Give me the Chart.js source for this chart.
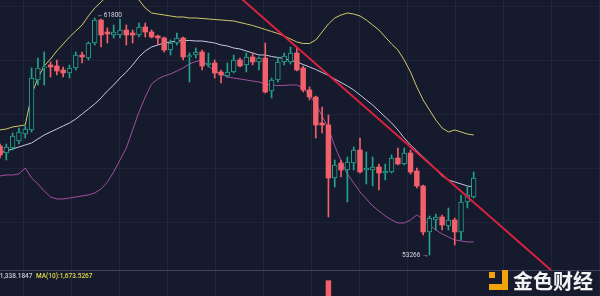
<!DOCTYPE html>
<html><head><meta charset="utf-8">
<script src="https://cdn.jsdelivr.net/npm/chart.js@4.4.0/dist/chart.umd.min.js"></script>
<style>html,body{margin:0;padding:0;background:#161a2d;overflow:hidden}#wrap{width:600px;height:296px}</style>
</head><body><div id="wrap"><canvas id="c" width="600" height="296"></canvas></div>
<script>
// ---- data (4H candles) ----
const categories = Array.from({length: 76}, (_, i) => 'K' + (i + 1));
const openP  = [57191,56939,57119,57371,57623,57767,59568,60000,60108,60072,59928,59820,60000,60468,60360,60900,61728,61296,61188,61188,61368,61260,61188,61476,61296,61152,61080,60648,60900,61080,60396,60468,60576,60108,60180,59856,59712,59856,60288,60108,60396,60216,60360,59171,59568,60216,60216,60540,60000,59207,58955,58019,57947,56038,56579,56327,56579,57047,56327,56327,56435,56219,56255,56759,56543,56939,56291,55751,54094,54526,54634,54310,54526,54094,55174,55354];
const highP  = [57263,57263,57659,57839,57911,60000,60360,60576,60216,60288,60036,60108,60576,60576,60936,61800,61764,61440,61548,61764,61548,61368,61620,61620,61368,61188,61116,61008,61260,61116,60540,60720,60648,60540,60288,59928,60180,60468,60360,60540,60540,60396,60900,59640,60396,60540,60756,60756,60072,59315,58990,58595,58307,56687,56687,56795,57155,57479,56975,56795,56543,56543,56867,57119,57119,57047,56399,55787,54670,54742,54706,54958,54598,55427,55715,56255];
const lowP   = [56759,56687,57047,57263,57479,57695,59387,59387,59676,59748,59676,59640,59928,60180,60288,60828,60756,60900,61080,61080,60828,60900,61116,61116,61080,60828,60576,60468,60828,60288,59496,60360,59928,60036,59640,59460,59676,59820,60036,59856,60108,59928,59099,58919,59496,60108,60144,59892,59135,58847,57479,57659,54634,55715,56075,55174,56327,56220,55823,55751,55606,55967,56219,56507,56507,56183,55679,53986,53266,54166,54166,54166,53626,53806,54958,55318];
const closeP = [56867,57155,57551,57695,57803,59640,60000,60036,60036,59892,59820,60000,60468,60396,60900,61728,61188,61224,61296,61368,61188,61188,61476,61296,61116,61080,60648,60900,61080,60396,60450,60576,60072,60180,59820,59748,59856,60288,60072,60396,60216,60360,59135,59568,60216,60432,60540,59928,59207,58955,57947,57947,56038,56507,56327,56615,57047,56255,56399,56435,56219,56291,56759,56543,56939,56255,55751,54094,54598,54634,54346,54526,54094,55174,55427,56038];
const volume = [2200,1900,2100,1800,1600,4800,3000,2600,1800,1700,1500,1600,2000,1500,2200,3500,3800,2100,1600,2000,1900,1500,1700,1600,1500,1400,2300,1800,1500,2600,2400,1500,2200,1600,1900,1500,1400,1700,1400,1600,1500,1400,3600,2400,2100,1500,1400,2300,2900,2000,3800,2600,9000,4200,2300,3000,2100,2600,1900,1700,1800,1300,1500,1400,1300,1700,1500,2900,2400,1300,1200,1100,1500,2100,1400,1338];
const bollUpper = [57768,57804,57876,57912,57948,59028,59640,60072,60324,60612,60864,61116,61332,61548,61872,62160,62376,62592,62736,62808,62808,62664,62448,62160,61980,61944,61908,61872,61836,61836,61800,61800,61782,61764,61746,61728,61710,61692,61638,61584,61530,61458,61386,61314,61242,61152,61044,60936,60882,60882,61008,61296,61584,61800,61908,61980,61944,61872,61728,61548,61368,61116,60864,60648,60288,59856,59316,58848,58488,58128,57840,57696,57768,57696,57624,57588];
const bollMid = [56940,57012,57084,57156,57228,57300,57444,57588,57696,57804,57912,58020,58164,58344,58524,58704,58920,59172,59388,59640,59856,60108,60396,60612,60756,60828,60900,60936,60972,60990,60990,60972,60972,60936,60900,60828,60792,60720,60684,60612,60540,60468,60468,60414,60378,60342,60270,60216,60126,60036,59946,59838,59730,59604,59478,59352,59208,59028,58848,58668,58452,58236,58020,57768,57480,57228,57012,56796,56580,56364,56112,55968,55896,55824,55752,55716];
const bollLower = [56112,56148,56148,56184,56400,56040,55824,55572,55356,55284,55284,55320,55356,55392,55428,55500,55644,55896,56256,56688,57120,57768,58416,58956,59424,59604,59712,59784,59892,60000,60144,60234,60288,60072,59892,59784,59676,59640,59604,59568,59532,59496,59424,59388,59370,59370,59388,59388,59280,59028,58704,58272,57840,57192,56652,56184,55860,55536,55284,55032,54852,54672,54528,54420,54420,54528,54708,54564,54348,54168,54024,53916,53808,53772,53736,53736];
const trendLine = [{x: 38, y: 62540}, {x: 87.22, y: 52726}];
const highMark = {index: 15, value: 61800, text: '61800'};
const lowMark  = {index: 68, value: 53266, text: '53266'};
const volText = 'VOL:1,338.1847';
const maText = 'MA(10):1,673.5267';
const brandText = '金色财经';

// ---- style ----
const BG = '#161a2d', UP = '#22a48c', DOWN = '#f2606c';
const isUp = i => closeP[i] >= openP[i];
const idx = categories.map((_, i) => i);

const decor = {
  id: 'decor',
  beforeDraw(chart) {
    const {ctx, width, height} = chart;
    ctx.save();
    ctx.fillStyle = BG; ctx.fillRect(0, 0, width, height);
    ctx.strokeStyle = 'rgba(120,130,170,0.10)'; ctx.lineWidth = 1;
    for (let x = 23; x < width; x += 48) { ctx.beginPath(); ctx.moveTo(x + 0.5, 0); ctx.lineTo(x + 0.5, height); ctx.stroke(); }
    for (let y = 6; y < 270; y += 54) { ctx.beginPath(); ctx.moveTo(0, y + 0.5); ctx.lineTo(width, y + 0.5); ctx.stroke(); }
    ctx.restore();
  },
  afterDatasetsDraw(chart) {
    const {ctx, width} = chart;
    const xs = chart.scales.x, ys = chart.scales.y;
    ctx.save();
    ctx.strokeStyle = 'rgba(130,140,175,0.35)'; ctx.lineWidth = 1;
    ctx.beginPath(); ctx.moveTo(0, 270.5); ctx.lineTo(width, 270.5); ctx.stroke();
    ctx.font = '6.5px Roboto'; ctx.fillStyle = '#d6d8e2'; ctx.textBaseline = 'middle';
    const hx = xs.getPixelForValue(highMark.index), hy = ys.getPixelForValue(highMark.value);
    ctx.textAlign = 'left'; ctx.fillText('←' + highMark.text, hx + 2.5, hy - 3);
    const lx = xs.getPixelForValue(lowMark.index), ly = ys.getPixelForValue(lowMark.value);
    ctx.textAlign = 'right'; ctx.fillText(lowMark.text + ' →', lx - 1, ly);
    ctx.font = '500 6.5px Roboto';
    ctx.textAlign = 'right'; ctx.fillStyle = '#c9cbd6'; ctx.fillText(volText, 32.5, 276.5);
    ctx.textAlign = 'left'; ctx.fillStyle = '#e3d94e'; ctx.fillText(maText, 36, 276.5);
    ctx.fillStyle = '#f0a30a';
    ctx.fillRect(489, 272, 6, 6);
    ctx.fillRect(502, 270, 6, 20);
    ctx.fillRect(489, 284, 19, 6);
    ctx.font = 'bold 20px "Noto Sans CJK SC"'; ctx.fillStyle = '#f2f2f4';
    ctx.textAlign = 'left'; ctx.textBaseline = 'middle';
    ctx.fillText(brandText, 513, 281);
    ctx.restore();
  }
};

new Chart(document.getElementById('c'), {
  data: {
    datasets: [
      { type: 'line', label: 'trend', data: trendLine, borderColor: '#d6223e', borderWidth: 2, pointRadius: 0, order: -1 },
      { type: 'bar', label: 'body', data: idx.map(i => ({x: i, y: [openP[i], closeP[i]]})),
        backgroundColor: c => isUp(c.dataIndex) ? BG : DOWN,
        borderColor: c => isUp(c.dataIndex) ? UP : DOWN,
        borderWidth: c => isUp(c.dataIndex) ? 1 : 0,
        borderSkipped: false, barThickness: 4.8, minBarLength: 1.2, grouped: false, order: 0 },
      { type: 'bar', label: 'wick', data: idx.map(i => ({x: i, y: [lowP[i], highP[i]]})),
        backgroundColor: c => isUp(c.dataIndex) ? UP : DOWN,
        borderWidth: 0, barThickness: 1, grouped: false, order: 1 },
      { type: 'bar', label: 'volume', yAxisID: 'yv', data: idx.map(i => ({x: i, y: volume[i]})),
        backgroundColor: c => isUp(c.dataIndex) ? UP : DOWN,
        borderWidth: 0, barThickness: 4.8, grouped: false, order: 1 },
      { type: 'line', label: 'upper', data: idx.map(i => ({x: i, y: bollUpper[i]})), borderColor: '#cfc86a', borderWidth: 1, pointRadius: 0, order: 2 },
      { type: 'line', label: 'mid', data: idx.map(i => ({x: i, y: bollMid[i]})), borderColor: '#c8c6e6', borderWidth: 1, pointRadius: 0, order: 2 },
      { type: 'line', label: 'lower', data: idx.map(i => ({x: i, y: bollLower[i]})), borderColor: '#a44f9e', borderWidth: 1, pointRadius: 0, order: 2 }
    ]
  },
  options: {
    responsive: false, animation: false, devicePixelRatio: 1,
    layout: {padding: 0},
    plugins: {legend: {display: false}, tooltip: {enabled: false}},
    scales: {
      x: {type: 'linear', min: 0, max: 95, offset: false, display: false},
      y: {type: 'linear', min: 51790, max: 62448, display: false},
      yv: {type: 'linear', min: 7000, max: 45600, display: false}
    }
  },
  plugins: [decor]
});
</script></body></html>
